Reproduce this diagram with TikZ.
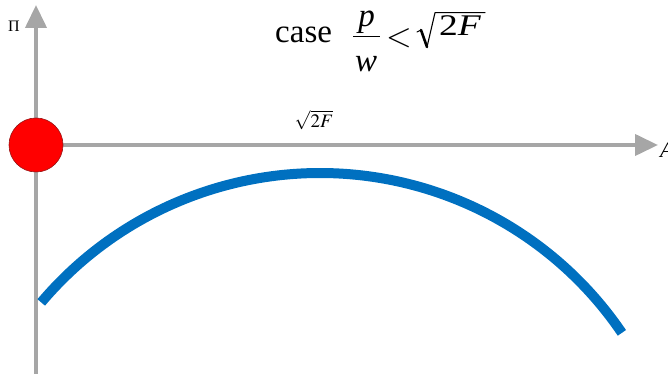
\documentclass[tikz,border=0pt]{standalone}
\usepackage{amsmath}
\usepackage{mathptmx}
\usepackage{fontspec}
\setmainfont{Liberation Serif}
\usetikzlibrary{arrows.meta}
\definecolor{axisgray}{RGB}{166,166,166}
\definecolor{curveblue}{RGB}{0,112,192}
\definecolor{dotborder}{RGB}{150,20,20}
\begin{document}
\begin{tikzpicture}[x=1pt,y=1pt,
  axis/.style={draw=axisgray,line width=4pt,-{Triangle[length=23pt,width=21pt]}},
  curve/.style={draw=curveblue,line width=10pt},
  dot/.style={circle,fill=red,draw=dotborder,line width=0.6pt,minimum size=54pt,inner sep=0pt},
  big/.style={inner sep=0pt,font=\fontsize{33}{38}\selectfont},
  rad/.style={line cap=round,line join=round}]
\useasboundingbox (0,0) rectangle (668,374);
\coordinate (ybot) at (36,0);
\coordinate (ytop) at (36,369);
\coordinate (xleft) at (36,229);
\coordinate (xright) at (658,229);
\draw[axis] (ybot) -- (ytop);
\draw[axis] (xleft) -- (xright);
\draw[curve] (320,-164) ++(139.8:365) arc[start angle=139.8,end angle=34.2,radius=365];
\node[dot] (origin) at (36,229) {};
\node[anchor=base west,inner sep=0pt] (ylabel) at (8,342) {\fontsize{16}{18}\selectfont П};
\node[anchor=base west,inner sep=0pt] (xlabel) at (660,216) {\fontsize{22}{24}\selectfont\itshape A};
\node (mark) at (314,254) {\fontsize{19}{21}\selectfont $\sqrt{2F}$};
% title: case p/w < sqrt(2F)
\node[big,anchor=base west] (case) at (275,331) {case};
\node[big] (pnum) at (366.5,351.5) {\itshape p};
\node[big] (wden) at (366,310) {\itshape w};
\coordinate (barL) at (353,337.3);
\coordinate (barR) at (380,337.3);
\draw[line width=1.4pt] (barL) -- (barR);
\node[big] (less) at (399,335.5) {$<$};
\coordinate (r1) at (417,342);
\coordinate (r2) at (421,344);
\coordinate (r3) at (427,327);
\coordinate (r4) at (435,361.3);
\coordinate (r5) at (485,361.3);
\draw[rad,line width=1pt] (r1) -- (r2);
\draw[rad,line width=2.6pt] (r2) -- (r3);
\draw[rad,line width=1.1pt] (r3) -- (r4) -- (r5);
\node[inner sep=0pt] (two) at (460,348) {\fontsize{30}{34}\selectfont\scalebox{1.25}[1]{2\itshape F}};
\end{tikzpicture}
\end{document}
